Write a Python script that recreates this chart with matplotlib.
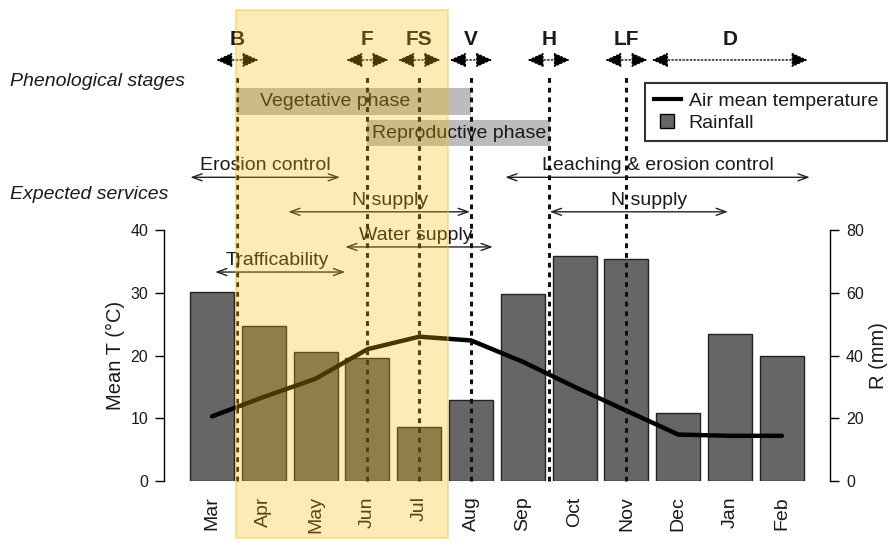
import matplotlib.pyplot as plt
import numpy as np
from matplotlib.patches import Rectangle
from matplotlib.lines import Line2D

plt.rcParams['font.family'] = ['Liberation Sans', 'DejaVu Sans']
plt.rcParams['lines.scale_dashes'] = False

# monthly climate data
months = ['Mar', 'Apr', 'May', 'Jun', 'Jul', 'Aug', 'Sep', 'Oct', 'Nov', 'Dec', 'Jan', 'Feb']
rain = [60.1, 49.4, 41.1, 39.3, 17.3, 25.8, 59.6, 71.7, 70.7, 21.6, 46.8, 39.9]
temp = [10.3, 13.4, 16.3, 21.0, 23.0, 22.4, 19.0, 15.0, 11.2, 7.4, 7.2, 7.2]

# phenological stages (month index, Mar = 0)
stages = ['B', 'F', 'FS', 'V', 'H', 'LF']
stage_x = [0.49, 3, 4, 5, 6.5, 8]
dorm_label = 'D'
dorm_span = [8.49, 11.5]

# phases: label, start, end, text x
phases = [('Vegetative phase', 0.49, 5.0, 2.37),
          ('Reproductive phase', 3.0, 6.52, 4.77)]

# services: label, start, end, text x, row
services = [('Erosion control', -0.42, 2.47, 1.02, 0),
            ('Leaching & erosion control', 5.66, 11.54, 8.6, 0),
            ('N supply', 1.47, 4.98, 3.44, 1),
            ('N supply', 6.52, 9.96, 8.43, 1),
            ('Water supply', 2.57, 5.42, 3.94, 2),
            ('Trafficability', 0.06, 2.57, 1.26, 3)]
service_rows = [48.4, 42.9, 37.3, 33.3]

# highlighted season
season = [0.46, 4.55]

x = np.arange(len(months))
txt = '#1a1a1a'
stage_arrow = dict(arrowstyle='<|-|>,head_length=0.55,head_width=0.25', linestyle=':', lw=1,
                   color='black', mutation_scale=18, shrinkA=0, shrinkB=0)

fig = plt.figure(figsize=(8.9, 5.58), dpi=100)
ax = fig.add_axes([0.1843, 0.138, 0.7483, 0.4498])
ax2 = ax.twinx()
ax.set_zorder(ax2.get_zorder() + 1)
ax.patch.set_visible(False)

ax2.bar(x, rain, width=0.85, color='#666666', edgecolor='#222222', linewidth=1, zorder=2)
ax.plot(x, temp, color='black', lw=3.2, zorder=3, solid_capstyle='round')

ax.set_xlim(-0.927, 11.93)
ax.set_ylim(0, 40)
ax2.set_ylim(0, 80)
ax.set_yticks([0, 10, 20, 30, 40])
ax2.set_yticks([0, 20, 40, 60, 80])
ax.set_xticks(x)
ax.set_xticklabels(months, rotation=90, fontsize=14, color=txt)
ax.tick_params(axis='x', length=0, pad=11)
for a in (ax, ax2):
    a.tick_params(axis='y', length=6.5, width=1, labelsize=11.5, pad=5, labelcolor=txt)
    for s in ('top', 'bottom'):
        a.spines[s].set_visible(False)
ax.spines['right'].set_visible(False)
ax2.spines['left'].set_visible(False)
ax.spines['left'].set_bounds(0, 40)
ax2.spines['right'].set_bounds(0, 80)
ax.spines['left'].set_linewidth(1)
ax2.spines['right'].set_linewidth(1)
ax.set_ylabel('Mean T (°C)', fontsize=14.5, color=txt, labelpad=4)
ax2.set_ylabel('R (mm)', fontsize=14.5, color=txt, labelpad=4)

# stage markers
for lab, sx in zip(stages, stage_x):
    ax.text(sx, 70.4, lab, ha='center', va='center', fontsize=15, fontweight='bold', color=txt, clip_on=False)
    ax.annotate('', xy=(sx + 0.41, 67.1), xytext=(sx - 0.41, 67.1), annotation_clip=False,
                arrowprops=stage_arrow)
    ax.plot([sx, sx], [0, 64.5], color='#111111', lw=2.2, dashes=(3.5, 3.5), zorder=4, clip_on=False)
ax.text(np.mean(dorm_span), 70.4, dorm_label, ha='center', va='center', fontsize=15, fontweight='bold',
        color=txt, clip_on=False)
ax.annotate('', xy=(dorm_span[1], 67.1), xytext=(dorm_span[0], 67.1), annotation_clip=False,
            arrowprops=stage_arrow)

# phase bars
for (lab, x0, x1, tx), (y0, y1) in zip(phases, [(58.3, 62.6), (53.4, 57.5)]):
    ax.add_patch(Rectangle((x0, y0), x1 - x0, y1 - y0, facecolor='#bcbcbc', edgecolor='none',
                           zorder=1, clip_on=False))
    ax.text(tx, (y0 + y1) / 2, lab, ha='center', va='center', fontsize=14, color=txt, clip_on=False, zorder=2)

# services
for lab, x0, x1, tx, row in services:
    y = service_rows[row]
    ax.annotate('', xy=(x1, y), xytext=(x0, y), annotation_clip=False,
                arrowprops=dict(arrowstyle='<->,head_length=0.5,head_width=0.18', lw=1, color='#222222',
                                mutation_scale=14, shrinkA=0, shrinkB=0))
    ax.text(tx, y + 0.5, lab, ha='center', va='bottom', fontsize=14, color=txt, clip_on=False)

ax.text(-3.9, 63.6, 'Phenological stages', ha='left', va='center', fontsize=14, style='italic',
        color=txt, clip_on=False)
ax.text(-3.9, 45.6, 'Expected services', ha='left', va='center', fontsize=14, style='italic',
        color=txt, clip_on=False)

# highlighted growing season
ax.add_patch(Rectangle((season[0], -9.1), season[1] - season[0], 84.2, facecolor='#fbb800', alpha=0.29,
                       edgecolor='none', zorder=10, clip_on=False))
ax.add_patch(Rectangle((season[0], -9.1), season[1] - season[0], 84.2, facecolor='none',
                       edgecolor='#f5c040', alpha=0.5, lw=1.2, zorder=10, clip_on=False))

handles = [Line2D([], [], color='black', lw=3),
           Line2D([], [], marker='s', ls='none', mfc='#666666', mec='black', ms=10)]
leg = fig.legend(handles, ['Air mean temperature', 'Rainfall'], loc='upper right',
                 bbox_to_anchor=(0.9966, 0.851), fontsize=14, fancybox=False, frameon=True,
                 handlelength=1.4, handletextpad=0.4, borderpad=0.45, labelspacing=0.25,
                 borderaxespad=0)
leg.get_frame().set_edgecolor('black')
leg.get_frame().set_linewidth(1.5)
for t in leg.get_texts():
    t.set_color(txt)

fig.savefig('out.png', dpi=100)
